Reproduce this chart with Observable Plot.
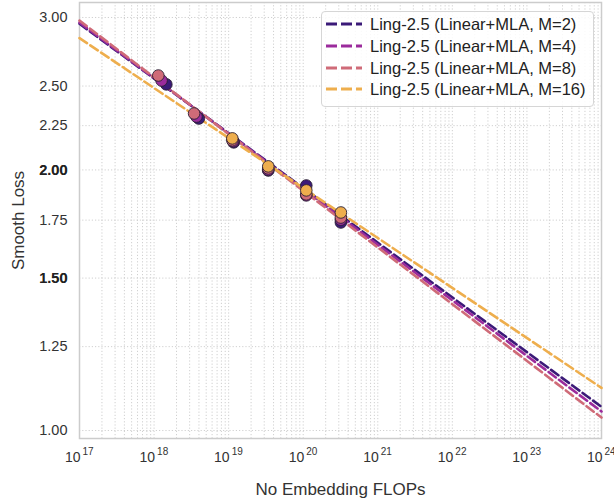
<!DOCTYPE html>
<html>
<head>
<meta charset="utf-8">
<script src="https://cdn.jsdelivr.net/npm/d3@7"></script>
<script src="https://cdn.jsdelivr.net/npm/@observablehq/plot@0.6"></script>
<style>
  body { margin: 0; background: white; }
  #wrap { position: relative; width: 614px; height: 503px; font-family: "Liberation Sans", Arial, sans-serif; }
  #legend { position: absolute; left: 321px; top: 11px; width: 273px; height: 96px;
    border: 1px solid #d6d6d6; border-radius: 4px; background: rgba(255,255,255,0.85); box-sizing: border-box; }
  .lrow { position: absolute; left: 0; height: 20px; width: 270px; }
  .lrow svg { position: absolute; left: 3px; top: 5px; }
  .lrow span { position: absolute; left: 48px; top: 0px; font-size: 16.5px; color: #222; line-height: 20px; white-space: nowrap; }
</style>
</head>
<body>
<div id="wrap"></div>
<script>
// ---- data ----
const series = ["M=2", "M=4", "M=8", "M=16"];
const seriesLabels = series.map(m => `Ling-2.5 (Linear+MLA, ${m})`);
const colors = ["#3b1a78", "#9b2b9c", "#cf6b78", "#eeae4d"];

const flopsM2 = [1.46e18, 3.98e18, 1.17e19, 3.4e19, 1.1e20, 3.2e20];
const lossM2  = [2.511, 2.293, 2.152, 1.997, 1.919, 1.739];
const flopsM4 = [1.26e18, 3.7e18, 1.15e19, 3.4e19, 1.1e20, 3.2e20];
const lossM4  = [2.537, 2.305, 2.158, 2.000, 1.869, 1.752];
const flopsM8 = [1.14e18, 3.44e18, 1.12e19, 3.4e19, 1.1e20, 3.2e20];
const lossM8  = [2.571, 2.324, 2.164, 2.008, 1.874, 1.762];
const flopsM16 = [1.12e19, 3.4e19, 1.1e20, 3.2e20];
const lossM16  = [2.175, 2.019, 1.894, 1.786];

// fitted power-law lines, read at the ends of the axis
const fitFlops = [1e17, 1e24];
const fitLossStart = [2.95, 2.96, 2.975, 2.84];
const fitLossEnd   = [1.065, 1.052, 1.035, 1.12];

const yTicks = [1.00, 1.25, 1.50, 1.75, 2.00, 2.25, 2.50, 3.00];
const boldYTicks = [1.50, 2.00];
const xDecades = [17, 18, 19, 20, 21, 22, 23, 24];

// ---- tables ----
const allFlops = [flopsM2, flopsM4, flopsM8, flopsM16];
const allLoss = [lossM2, lossM4, lossM8, lossM16];
const pointRows = [];
allFlops.forEach((fl, i) => fl.forEach((f, j) => pointRows.push({series: seriesLabels[i], flops: f, loss: allLoss[i][j]})));
const lineRows = [];
seriesLabels.forEach((s, i) => {
  lineRows.push({series: s, flops: fitFlops[0], loss: fitLossStart[i]});
  lineRows.push({series: s, flops: fitFlops[1], loss: fitLossEnd[i]});
});
const xGrid = [];
for (let e = 17; e < 24; e++) for (let m = 1; m < 10; m++) xGrid.push(m * Math.pow(10, e));
xGrid.push(1e24);
const decadeVals = xDecades.map(e => Math.pow(10, e));

const font = "Liberation Sans, Arial, sans-serif";
const plot = Plot.plot({
  width: 614, height: 503,
  marginLeft: 79, marginRight: 13, marginTop: 2, marginBottom: 65,
  style: {fontFamily: font, background: "white", color: "#333", overflow: "visible"},
  x: {type: "log", domain: [1e17, 1e24], axis: null},
  y: {type: "log", domain: [0.979, 3.122]},
  color: {domain: seriesLabels, range: colors},
  marks: [
    Plot.gridX(xGrid, {stroke: "#c4c4c4", strokeOpacity: 1, strokeWidth: 0.8, strokeDasharray: "1.2,2"}),
    Plot.gridY(yTicks, {stroke: "#c4c4c4", strokeOpacity: 1, strokeWidth: 0.8, strokeDasharray: "1.2,2"}),
    Plot.frame({stroke: "#cccccc", strokeWidth: 1.5}),
    Plot.axisY(yTicks, {tickSize: 0, tickPadding: 12, tickFormat: d3.format(".2f"), fontSize: 14.5, label: null, fill: "#333"}),
    Plot.axisY(boldYTicks, {tickSize: 0, tickPadding: 12, tickFormat: d3.format(".2f"), fontSize: 14.5, label: null, fill: "#222", fontWeight: "bold"}),
    Plot.text(decadeVals, {x: d => d, frameAnchor: "bottom", dy: 23, text: () => "10", textAnchor: "end", dx: 1, fontSize: 14, fill: "#333"}),
    Plot.text(decadeVals, {x: d => d, frameAnchor: "bottom", dy: 16, text: d => String(Math.round(Math.log10(d))), textAnchor: "start", dx: 3, fontSize: 10, fill: "#333"}),
    Plot.text(["No Embedding FLOPs"], {frameAnchor: "bottom", dy: 56, textAnchor: "middle", text: d => d, fontSize: 17, fill: "#333"}),
    Plot.text(["Smooth Loss"], {frameAnchor: "left", dx: -61, rotate: -90, textAnchor: "middle", text: d => d, fontSize: 17, fill: "#333"}),
    Plot.line(lineRows, {x: "flops", y: "loss", z: "series", stroke: "series", strokeWidth: 2.6, strokeDasharray: "9,4"}),
    Plot.dot(pointRows, {x: "flops", y: "loss", fill: "series", stroke: "#2a1f33", strokeWidth: 0.9, r: 5.8, fillOpacity: 1})
  ]
});
const wrap = document.getElementById("wrap");
wrap.appendChild(plot);

// legend
const legend = d3.select(wrap).append("div").attr("id", "legend");
const rowTops = [2.3, 24, 45.7, 67.3];
seriesLabels.forEach((s, i) => {
  const row = legend.append("div").attr("class", "lrow").style("top", rowTops[i] + "px");
  const sv = row.append("svg").attr("width", 42).attr("height", 10);
  sv.append("line").attr("x1", 1).attr("x2", 37).attr("y1", 5).attr("y2", 5)
    .attr("stroke", colors[i]).attr("stroke-width", 3).attr("stroke-dasharray", "11,4");
  row.append("span").text(s);
});
</script>
</body>
</html>
